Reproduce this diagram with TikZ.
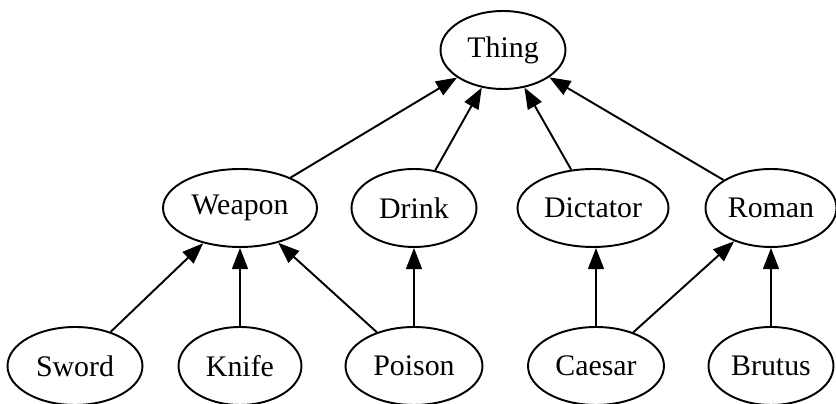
\documentclass[tikz,border=0pt]{standalone}
\usepackage{fontspec}
\setmainfont{Liberation Serif}
\usetikzlibrary{arrows.meta, shapes.geometric}

\begin{document}
\begin{tikzpicture}[
    x=0.02cm, y=-0.02cm,          % Koordinaten in Bildpunkten
    concept/.style={draw, ellipse, line width=1.1pt, inner sep=0pt, minimum height=1.56cm, font=\fontsize{17}{20}\selectfont},
    arrow/.style={-{Triangle[length=12pt,width=9pt]}, line width=1.1pt}
  ]
  \useasboundingbox (0,0) rectangle (836,404);

  % Oberbegriff
  \node[concept, minimum width=2.5cm]  (thing)    at (503,50)  {Thing};

  % Kategorien
  \node[concept, minimum width=3.08cm] (weapon)   at (240,208) {Weapon};
  \node[concept, minimum width=2.5cm]  (drink)    at (414,208) {Drink};
  \node[concept, minimum width=3.02cm] (dictator) at (593,208) {Dictator};
  \node[concept, minimum width=2.62cm] (roman)    at (771,208) {Roman};

  % Instanzen
  \node[concept, minimum width=2.7cm]  (sword)    at (75,366)  {Sword};
  \node[concept, minimum width=2.46cm] (knife)    at (240,366) {Knife};
  \node[concept, minimum width=2.74cm] (poison)   at (414,366) {Poison};
  \node[concept, minimum width=2.72cm] (caesar)   at (596,366) {Caesar};
  \node[concept, minimum width=2.5cm]  (brutus)   at (771,366) {Brutus};

  \draw[arrow] (weapon)   -- (thing);
  \draw[arrow] (drink)    -- (thing);
  \draw[arrow] (dictator) -- (thing);
  \draw[arrow] (roman)    -- (thing);

  \draw[arrow] (sword)  -- (weapon);
  \draw[arrow] (knife)  -- (weapon);
  \draw[arrow] (poison) -- (weapon);
  \draw[arrow] (poison) -- (drink);
  \draw[arrow] (caesar) -- (dictator.south -| caesar);
  \draw[arrow] (caesar) -- (roman);
  \draw[arrow] (brutus) -- (roman);

\end{tikzpicture}
\end{document}
